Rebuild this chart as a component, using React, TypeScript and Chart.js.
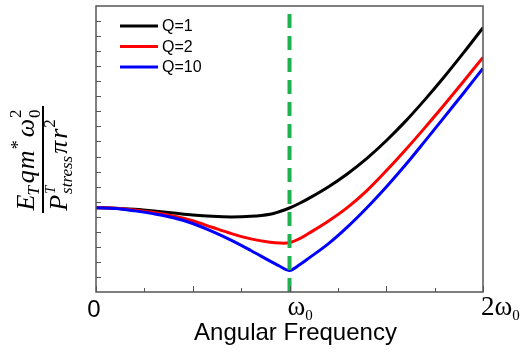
import React, { useEffect, useRef } from 'react';
import { Chart, registerables } from 'chart.js';

Chart.register(...registerables);

// ---- data ----
const freq = [0, 0.1, 0.2, 0.3, 0.4, 0.5, 0.6, 0.7, 0.8, 0.9, 0.95, 1.0, 1.05, 1.1, 1.2, 1.3, 1.4, 1.5, 1.6, 1.7, 1.8, 1.9, 2.0];
const q1 = [5.6, 5.57, 5.49, 5.38, 5.25, 5.12, 5.03, 4.99, 5.03, 5.17, 5.35, 5.58, 5.88, 6.22, 6.98, 7.86, 8.88, 10.05, 11.35, 12.78, 14.3, 15.9, 17.56];
const q2 = [5.6, 5.56, 5.45, 5.28, 5.05, 4.73, 4.3, 3.88, 3.53, 3.3, 3.25, 3.28, 3.53, 3.9, 4.7, 5.62, 6.74, 8.05, 9.45, 10.92, 12.44, 14.0, 15.59];
const q10 = [5.6, 5.55, 5.39, 5.19, 4.93, 4.55, 4.02, 3.43, 2.76, 2.05, 1.71, 1.43, 1.79, 2.25, 3.2, 4.33, 5.6, 6.98, 8.45, 10.02, 11.62, 13.22, 14.86];

const seriesLabels = ['Q=1', 'Q=2', 'Q=10'];
const seriesColors = ['#000000', '#ff0000', '#0000ff'];
const seriesValues = [q1, q2, q10];

const resonanceX = [1, 1];
const resonanceY = [0, 18.6];

const xMin = 0;
const xMax = 2;
const yMin = 0;
const yMax = 19;
const xMajorTicks = [0, 0.5, 1, 1.5, 2];
const xMinorTicks = [0.25, 0.75, 1.25, 1.75];
const yTickValues = [1, 2, 3, 4, 5, 6, 7, 8, 9, 10, 11, 12, 13, 14, 15, 16, 17, 18];
const xLabelValues = [0, 1, 2];
const xLabelMain = ['0', 'ω', '2ω'];
const xLabelSub = ['', '0', '0'];
const xAxisTitle = 'Angular Frequency';

const SERIF = '"Liberation Serif", "Times New Roman", serif';
const SANS = '"Liberation Sans", Arial, sans-serif';

type Piece = { t: string; size: number; italic?: boolean; dy: number; gap?: number } | { stack: { t: string; size: number; italic?: boolean; dy: number }[]; gap?: number };

const numerator: Piece[] = [
  { t: 'E', size: 26, italic: true, dy: 0 },
  { t: 'T', size: 17, italic: true, dy: 5, gap: -1 },
  { t: 'q', size: 26, italic: true, dy: 0, gap: 3 },
  { t: 'm', size: 26, italic: true, dy: 0, gap: 1 },
  { t: '*', size: 18, dy: -10, gap: 1 },
  { t: 'ω', size: 26, italic: true, dy: 0, gap: 3 },
  { stack: [{ t: '2', size: 17, dy: -13 }, { t: '0', size: 17, dy: 6 }], gap: 1 },
];
const denominator: Piece[] = [
  { t: 'P', size: 26, italic: true, dy: 0 },
  { stack: [{ t: 'T', size: 15, italic: true, dy: -12 }, { t: 'stress', size: 17, italic: true, dy: 5 }], gap: 1 },
  { t: 'π', size: 26, italic: true, dy: 0, gap: 2 },
  { t: 'r', size: 26, italic: true, dy: 0, gap: 2 },
  { t: '2', size: 17, dy: -12, gap: 1 },
];

function fontOf(size: number, italic?: boolean) {
  return `${italic ? 'italic ' : ''}${size}px ${SERIF}`;
}

function runWidth(ctx: CanvasRenderingContext2D, pieces: Piece[]) {
  let w = 0;
  for (const p of pieces) {
    w += p.gap || 0;
    if ('stack' in p) {
      let m = 0;
      for (const s of p.stack) {
        ctx.font = fontOf(s.size, s.italic);
        m = Math.max(m, ctx.measureText(s.t).width);
      }
      w += m;
    } else {
      ctx.font = fontOf(p.size, p.italic);
      w += ctx.measureText(p.t).width;
    }
  }
  return w;
}

function drawRun(ctx: CanvasRenderingContext2D, pieces: Piece[], cx: number, baseline: number) {
  let x = cx - runWidth(ctx, pieces) / 2;
  ctx.textAlign = 'left';
  ctx.textBaseline = 'alphabetic';
  for (const p of pieces) {
    x += p.gap || 0;
    if ('stack' in p) {
      let m = 0;
      for (const s of p.stack) {
        ctx.font = fontOf(s.size, s.italic);
        ctx.fillText(s.t, x, baseline + s.dy);
        m = Math.max(m, ctx.measureText(s.t).width);
      }
      x += m;
    } else {
      ctx.font = fontOf(p.size, p.italic);
      ctx.fillText(p.t, x, baseline + p.dy);
      x += ctx.measureText(p.t).width;
    }
  }
}

const decorPlugin = {
  id: 'decor',
  afterDraw(chart: any) {
    const { ctx, chartArea: a, scales } = chart;
    const xs = scales.x;
    const ys = scales.y;
    ctx.save();
    // ticks (inward)
    ctx.strokeStyle = '#555555';
    ctx.lineWidth = 1;
    ctx.beginPath();
    for (const v of yTickValues) {
      const py = Math.round(ys.getPixelForValue(v)) + 0.5;
      ctx.moveTo(a.left, py);
      ctx.lineTo(a.left + 5, py);
    }
    for (const v of xMajorTicks) {
      const px = Math.round(xs.getPixelForValue(v)) + 0.5;
      ctx.moveTo(px, a.bottom);
      ctx.lineTo(px, a.bottom - 6);
    }
    for (const v of xMinorTicks) {
      const px = Math.round(xs.getPixelForValue(v)) + 0.5;
      ctx.moveTo(px, a.bottom);
      ctx.lineTo(px, a.bottom - 4);
    }
    ctx.stroke();
    // frame
    ctx.strokeStyle = '#555555';
    ctx.lineWidth = 1.5;
    ctx.strokeRect(a.left, a.top, a.right - a.left, a.bottom - a.top);

    // x tick labels
    ctx.fillStyle = '#000000';
    ctx.textBaseline = 'alphabetic';
    xLabelValues.forEach((v, i) => {
      const px = xs.getPixelForValue(v);
      if (!xLabelSub[i]) {
        ctx.font = `24px ${SANS}`;
        ctx.textAlign = 'center';
        ctx.fillText(xLabelMain[i], px - 2, a.bottom + 25);
      } else {
        ctx.textAlign = 'left';
        ctx.font = `27px ${SERIF}`;
        const x0 = px - 2;
        ctx.fillText(xLabelMain[i], x0, a.bottom + 23);
        const w = ctx.measureText(xLabelMain[i]).width;
        ctx.font = `15px ${SERIF}`;
        ctx.fillText(xLabelSub[i], x0 + w, a.bottom + 28);
      }
    });
    // x axis title
    ctx.font = `24px ${SANS}`;
    ctx.textAlign = 'center';
    ctx.fillText(xAxisTitle, (a.left + a.right) / 2 + 6, a.bottom + 48);

    // legend
    const lx = a.left + 24;
    seriesLabels.forEach((lab, i) => {
      const ly = a.top + 20 + i * 20.5;
      ctx.strokeStyle = seriesColors[i];
      ctx.lineWidth = 3;
      ctx.beginPath();
      ctx.moveTo(lx, ly);
      ctx.lineTo(lx + 38, ly);
      ctx.stroke();
      ctx.fillStyle = '#000000';
      ctx.font = `16px ${SANS}`;
      ctx.textAlign = 'left';
      ctx.textBaseline = 'middle';
      ctx.fillText(lab, lx + 42, ly + 1);
    });

    // y axis title (rotated fraction)
    ctx.translate(43, 160);
    ctx.rotate(-Math.PI / 2);
    ctx.fillStyle = '#000000';
    ctx.fillRect(-53, -1, 107, 2);
    drawRun(ctx, numerator, 0, -9);
    drawRun(ctx, denominator, -5, 24);
    ctx.restore();
  },
};

export default function App() {
  const ref = useRef<HTMLCanvasElement | null>(null);
  useEffect(() => {
    if (!ref.current) return;
    const lineSets = seriesLabels.map((lab, i) => ({
      label: lab,
      data: freq.map((f, j) => ({ x: f, y: seriesValues[i][j] })),
      borderColor: seriesColors[i],
      backgroundColor: seriesColors[i],
      borderWidth: 3,
      pointRadius: 0,
      tension: 0.35,
      fill: false,
      order: 3 - i,
    }));
    const chart = new Chart(ref.current, {
      type: 'line',
      data: {
        datasets: [
          {
            label: 'ω0',
            data: resonanceX.map((x, j) => ({ x, y: resonanceY[j] })),
            borderColor: '#1fb04f',
            borderWidth: 4,
            borderDash: [14, 8],
            pointRadius: 0,
            fill: false,
            order: 0,
          },
          ...lineSets,
        ],
      },
      options: {
        animation: false,
        responsive: false,
        devicePixelRatio: 1,
        layout: { padding: { left: 96, right: 38, top: 6, bottom: 60 } },
        plugins: { legend: { display: false }, tooltip: { enabled: false }, title: { display: false } },
        scales: {
          x: { type: 'linear', min: xMin, max: xMax, display: false },
          y: { type: 'linear', min: yMin, max: yMax, display: false },
        },
      },
      plugins: [decorPlugin],
    });
    return () => chart.destroy();
  }, []);
  return (
    <div style={{ position: 'absolute', left: 0, top: 0, width: 521, height: 352, background: '#ffffff' }}>
      <canvas ref={ref} width={521} height={352} />
    </div>
  );
}
